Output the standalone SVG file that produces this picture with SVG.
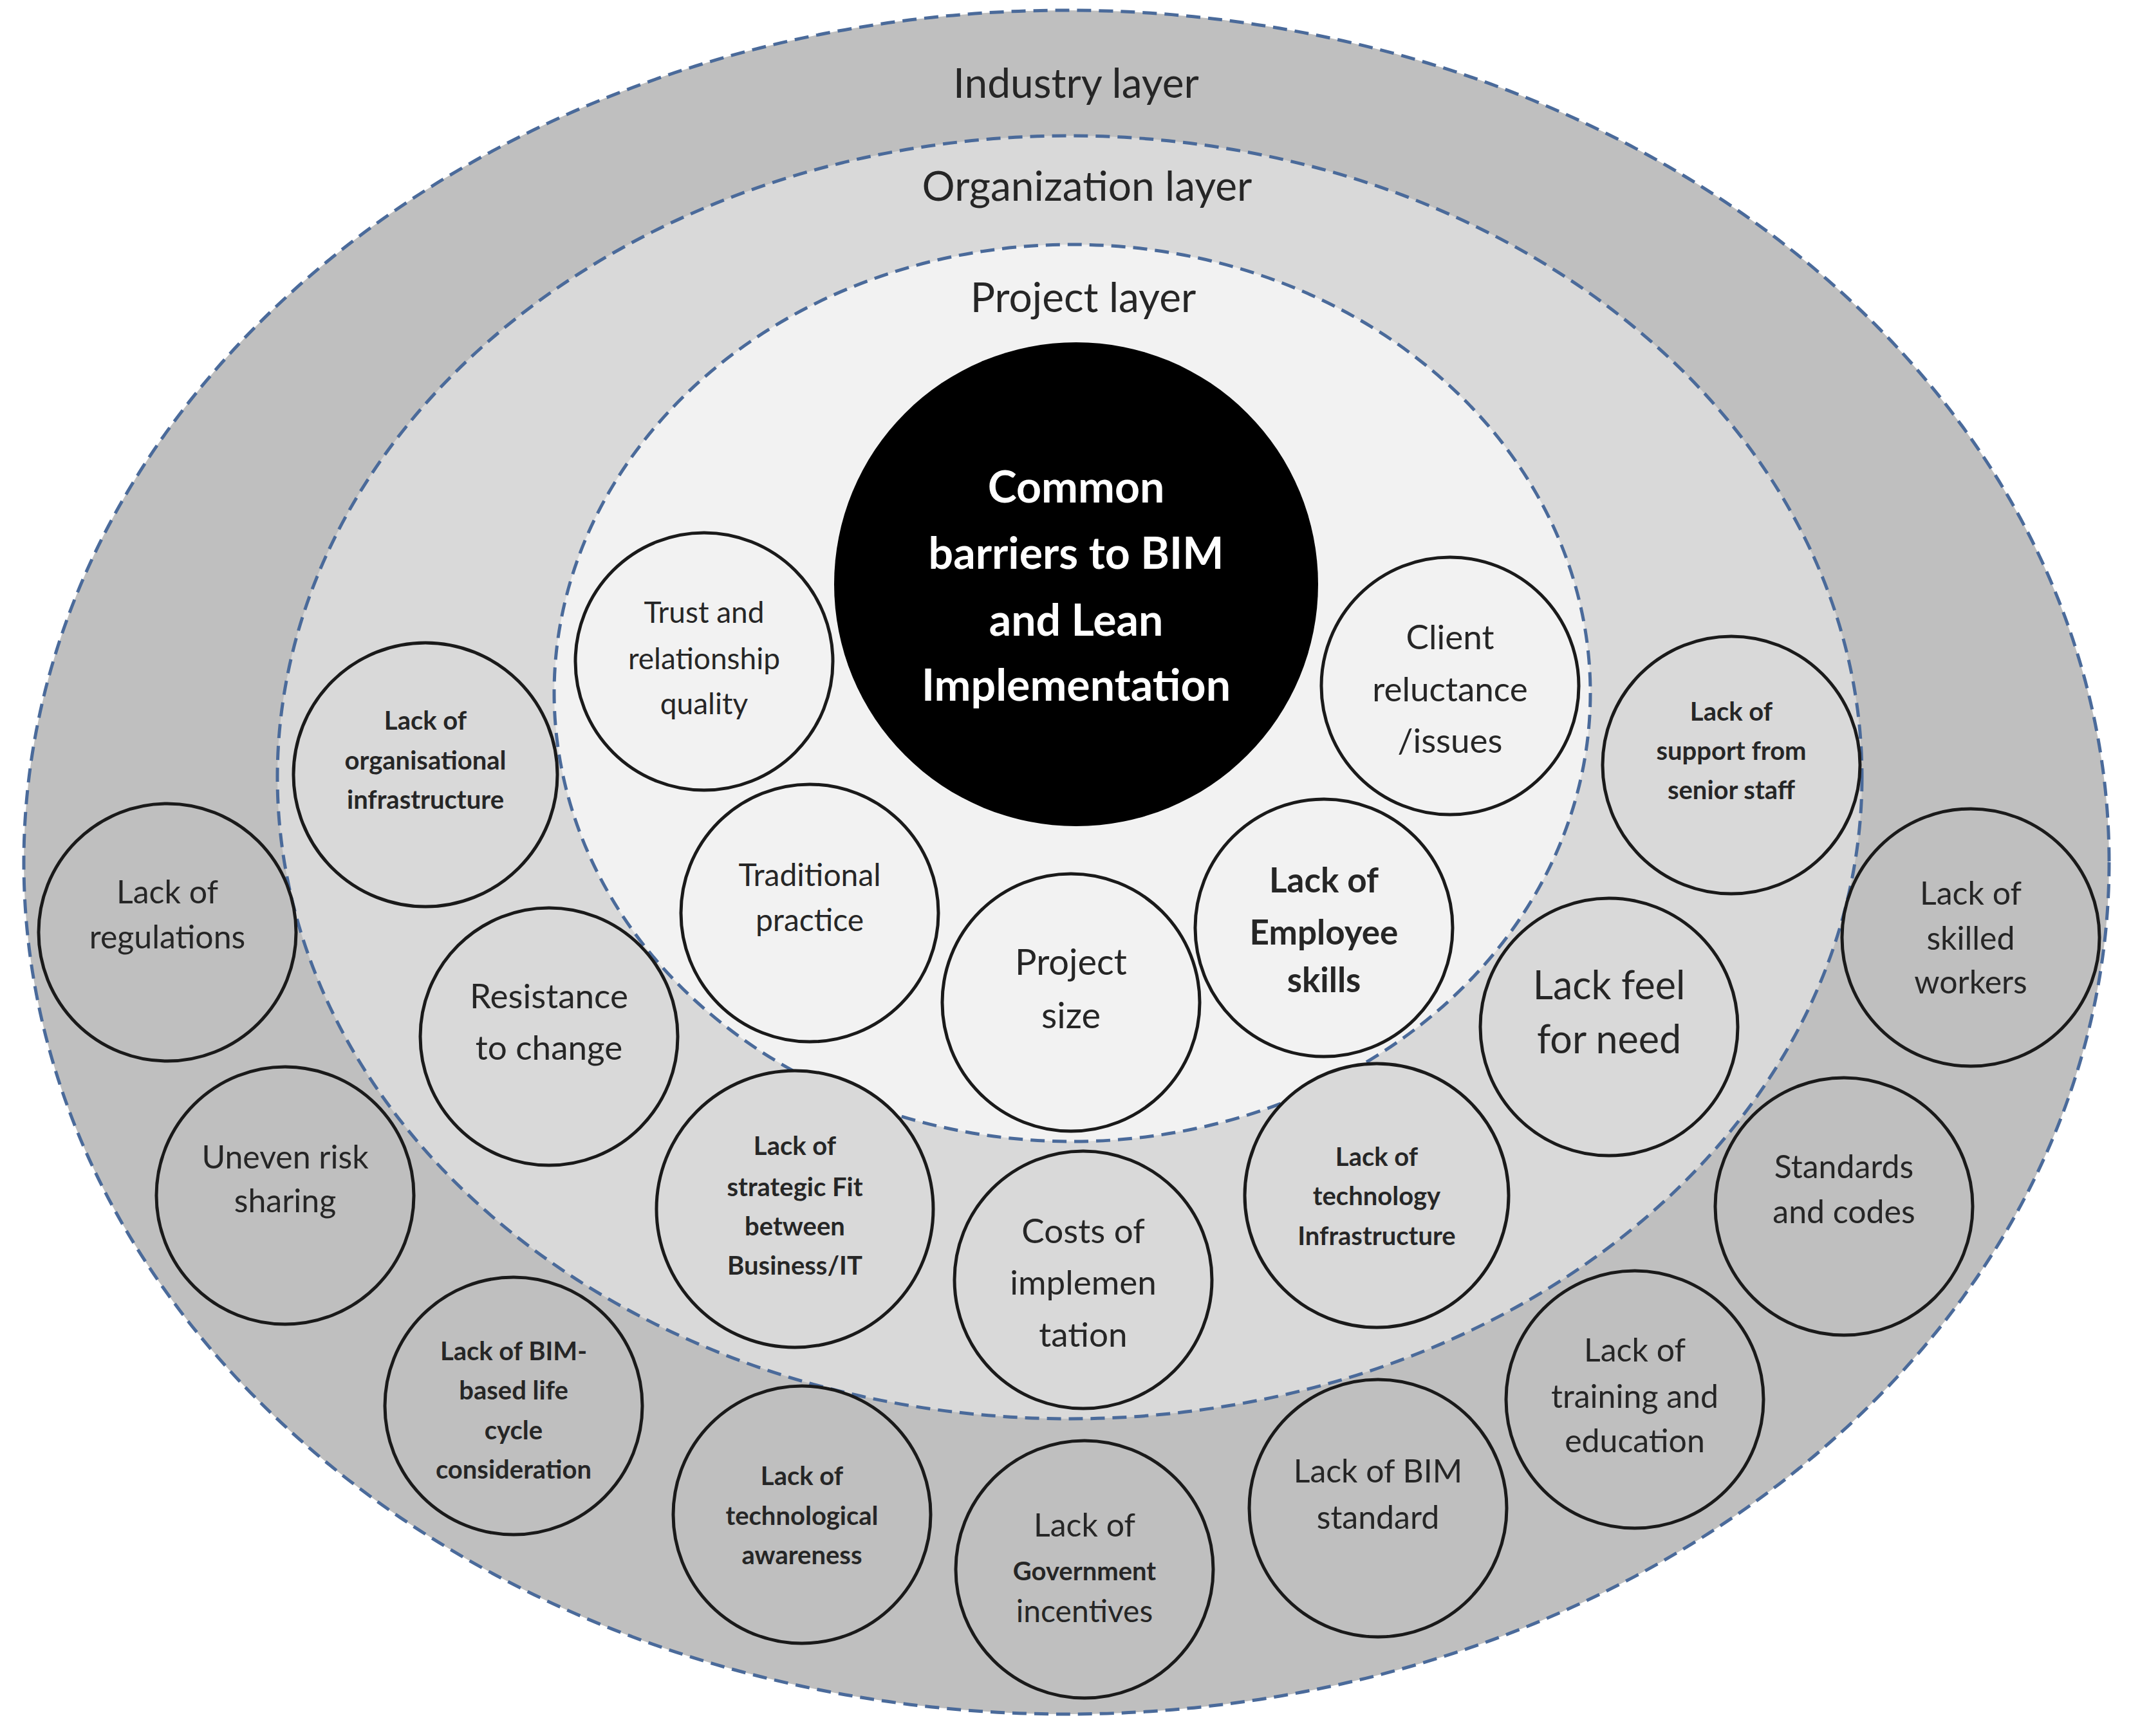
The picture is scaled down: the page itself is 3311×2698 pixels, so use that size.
<svg xmlns="http://www.w3.org/2000/svg" width="3311" height="2698" viewBox="0 0 3311 2698">
<style>
.lay{stroke:#4a6a9a;stroke-width:5;stroke-dasharray:22 12}
.c{stroke:#1a1a1a;stroke-width:5}
.ci{fill:#bfbfbf}.co{fill:#d9d9d9}.cp{fill:#f2f2f2}
text{font-family:Lato,"Open Sans","Liberation Sans",sans-serif;fill:#262626;text-anchor:middle;dominant-baseline:central}
.s{font-size:40px;font-weight:bold}.m{font-size:50px}.l{font-size:56px}.h{font-size:64px}
</style>
<rect width="3311" height="2698" fill="#ffffff"/>
<g id="layers">
<ellipse cx="1657" cy="1340" rx="1620" ry="1324" fill="#bfbfbf" class="lay"/>
<ellipse cx="1662" cy="1208" rx="1231" ry="997" fill="#d9d9d9" class="lay"/>
<ellipse cx="1666" cy="1077" rx="805" ry="697" fill="#f2f2f2" class="lay"/>
<text class="h" x="1672" y="127">Industry layer</text>
<text class="h" x="1689" y="287">Organization layer</text>
<text class="h" x="1683" y="460">Project layer</text>
</g>
<g id="center"><circle cx="1672" cy="908" r="376" fill="#000"/>
<text x="1672" style="font-size:68px;font-weight:bold;fill:#fff"><tspan y="754">Common</tspan><tspan x="1672" y="857">barriers to BIM</tspan><tspan x="1672" y="961">and Lean</tspan><tspan x="1672" y="1062">Implementation</tspan></text></g>
<g id="trust"><circle class="c cp" cx="1094" cy="1028" r="200"/><text x="1094" style="font-size:46px"><tspan y="950">Trust and</tspan><tspan x="1094" y="1022">relationship</tspan><tspan x="1094" y="1092">quality</tspan></text></g>
<g id="client"><circle class="c cp" cx="2253" cy="1066" r="200"/><text x="2253" style="font-size:53px"><tspan y="988">Client</tspan><tspan x="2253" y="1069">reluctance</tspan><tspan x="2253" y="1149">/issues</tspan></text></g>
<g id="traditional"><circle class="c cp" cx="1258" cy="1419" r="200"/><text x="1258" style="font-size:48px"><tspan y="1358">Traditional</tspan><tspan x="1258" y="1428">practice</tspan></text></g>
<g id="projsize"><circle class="c cp" cx="1664" cy="1558" r="200"/><text x="1664" class="l"><tspan y="1493">Project</tspan><tspan x="1664" y="1576">size</tspan></text></g>
<g id="employee"><circle class="c cp" cx="2057" cy="1442" r="200"/><text x="2057" style="font-size:53px;font-weight:bold"><tspan y="1366">Lack of</tspan><tspan x="2057" y="1447">Employee</tspan><tspan x="2057" y="1521">skills</tspan></text></g>
<g id="orginfra"><circle class="c co" cx="661" cy="1204" r="205"/><text x="661" class="s"><tspan y="1119">Lack of</tspan><tspan x="661" y="1181">organisational</tspan><tspan x="661" y="1242">infrastructure</tspan></text></g>
<g id="support"><circle class="c co" cx="2690" cy="1189" r="200"/><text x="2690" class="s"><tspan y="1105">Lack of</tspan><tspan x="2690" y="1166">support from</tspan><tspan x="2690" y="1227">senior staff</tspan></text></g>
<g id="resistance"><circle class="c co" cx="853" cy="1611" r="200"/><text x="853" style="font-size:53px"><tspan y="1546">Resistance</tspan><tspan x="853" y="1626">to change</tspan></text></g>
<g id="feel"><circle class="c co" cx="2500" cy="1596" r="200"/><text x="2500" style="font-size:61px"><tspan y="1529">Lack feel</tspan><tspan x="2500" y="1613">for need</tspan></text></g>
<g id="strategic"><circle class="c co" cx="1235" cy="1879" r="215"/><text x="1235" class="s"><tspan y="1780">Lack of</tspan><tspan x="1235" y="1844">strategic Fit</tspan><tspan x="1235" y="1905">between</tspan><tspan x="1235" y="1966">Business/IT</tspan></text></g>
<g id="costs"><circle class="c co" cx="1683" cy="1989" r="200"/><text x="1683" style="font-size:53px"><tspan y="1911">Costs of</tspan><tspan x="1683" y="1991">implemen</tspan><tspan x="1683" y="2072">tation</tspan></text></g>
<g id="techinfra"><circle class="c co" cx="2139" cy="1858" r="205"/><text x="2139" class="s"><tspan y="1797">Lack of</tspan><tspan x="2139" y="1858">technology</tspan><tspan x="2139" y="1920">Infrastructure</tspan></text></g>
<g id="regulations"><circle class="c ci" cx="260" cy="1449" r="200"/><text x="260" class="m"><tspan y="1385">Lack of</tspan><tspan x="260" y="1455">regulations</tspan></text></g>
<g id="uneven"><circle class="c ci" cx="443" cy="1858" r="200"/><text x="443" class="m"><tspan y="1797">Uneven risk</tspan><tspan x="443" y="1865">sharing</tspan></text></g>
<g id="lifecycle"><circle class="c ci" cx="798" cy="2185" r="200"/><text x="798" class="s"><tspan y="2099">Lack of BIM-</tspan><tspan x="798" y="2160">based life</tspan><tspan x="798" y="2222">cycle</tspan><tspan x="798" y="2283">consideration</tspan></text></g>
<g id="awareness"><circle class="c ci" cx="1246" cy="2354" r="200"/><text x="1246" class="s"><tspan y="2293">Lack of</tspan><tspan x="1246" y="2355">technological</tspan><tspan x="1246" y="2416">awareness</tspan></text></g>
<g id="government"><circle class="c ci" cx="1685" cy="2439" r="200"/><text x="1685"><tspan class="m" y="2369">Lack of</tspan><tspan class="s" x="1685" y="2441">Government</tspan><tspan style="font-size:48px" x="1685" y="2502">incentives</tspan></text></g>
<g id="bimstd"><circle class="c ci" cx="2141" cy="2344" r="200"/><text x="2141" class="m"><tspan y="2285">Lack of BIM</tspan><tspan x="2141" y="2357">standard</tspan></text></g>
<g id="training"><circle class="c ci" cx="2540" cy="2175" r="200"/><text x="2540" class="m"><tspan y="2097">Lack of</tspan><tspan x="2540" y="2169">training and</tspan><tspan x="2540" y="2238">education</tspan></text></g>
<g id="standards"><circle class="c ci" cx="2865" cy="1875" r="200"/><text x="2865" class="m"><tspan y="1812">Standards</tspan><tspan x="2865" y="1882">and codes</tspan></text></g>
<g id="skilled"><circle class="c ci" cx="3062" cy="1457" r="200"/><text x="3062" class="m"><tspan y="1387">Lack of</tspan><tspan x="3062" y="1457">skilled</tspan><tspan x="3062" y="1525">workers</tspan></text></g>
<g id="connectors"/>
</svg>
